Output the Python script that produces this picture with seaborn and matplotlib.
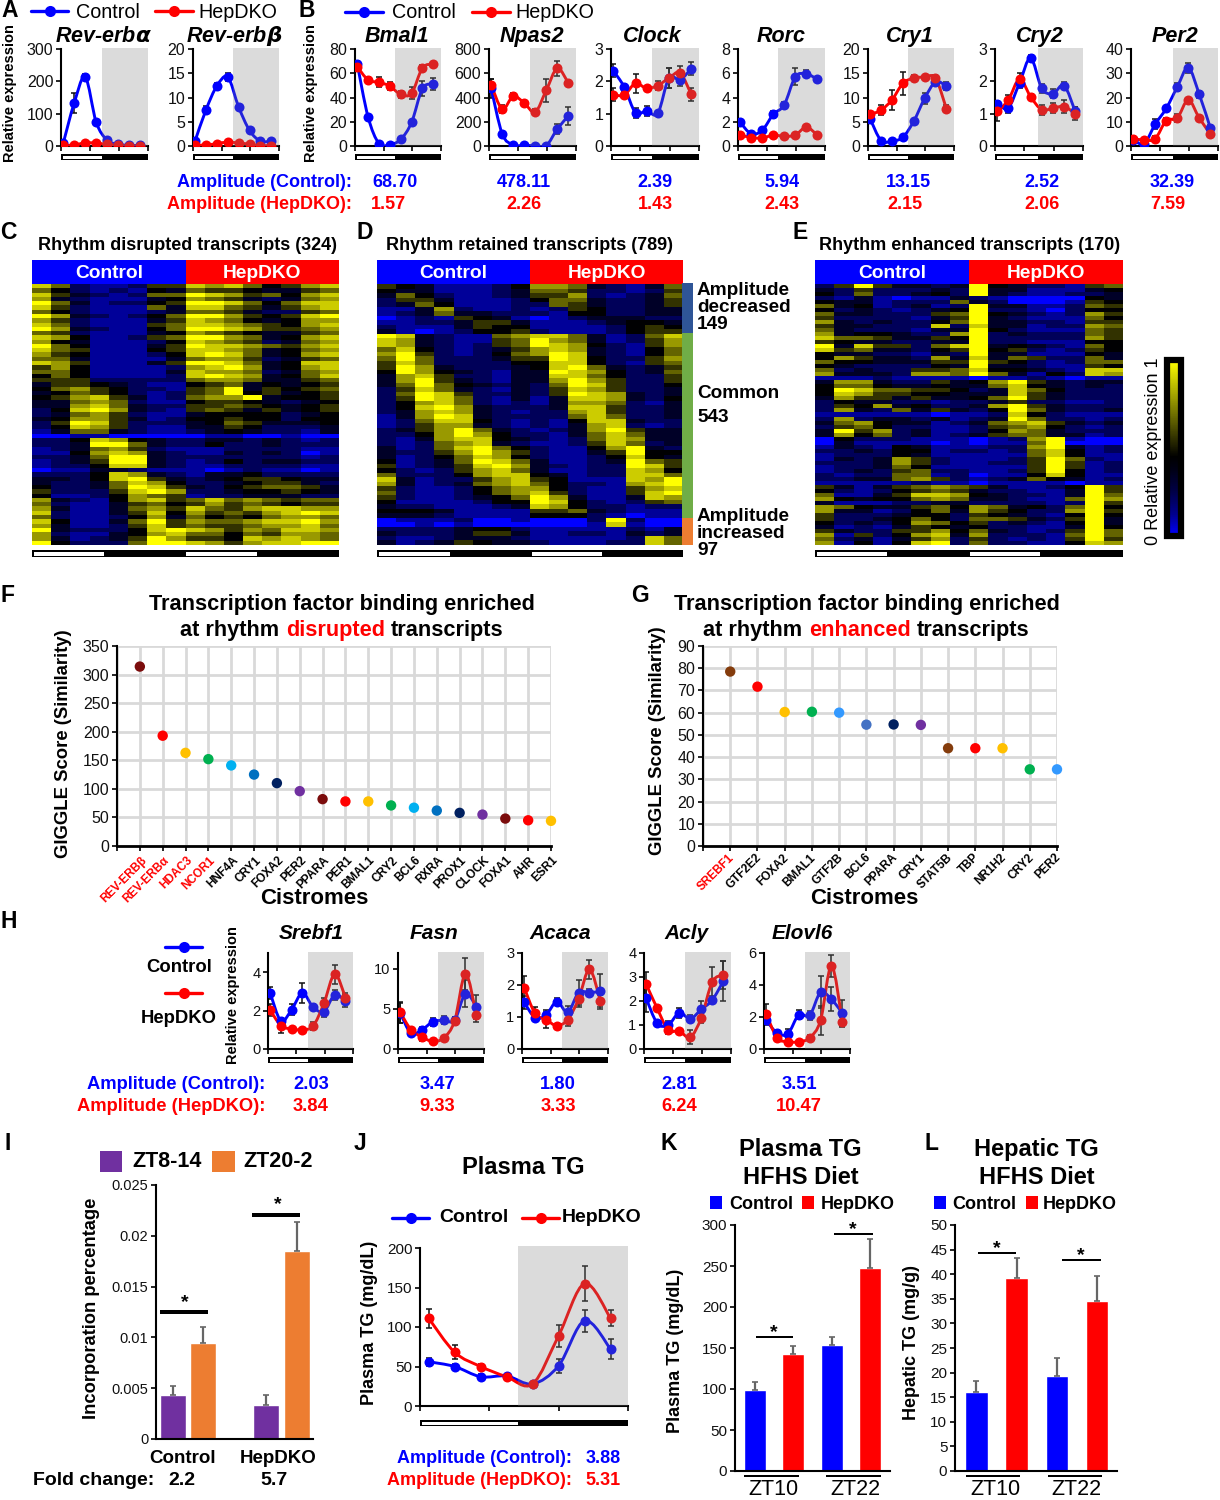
import pandas as pd
import matplotlib
matplotlib.use("Agg")
import matplotlib.pyplot as plt
import seaborn as sns
from matplotlib.cm import ScalarMappable
from matplotlib.colors import LinearSegmentedColormap, Normalize
from matplotlib.patches import PathPatch, Rectangle
from matplotlib.path import Path

W, H = 1220, 1500
BLUE, RED = "#0000ff", "#ff0000"
ZT = [0, 1, 2, 3, 4, 5, 6, 7]

# --- Panels A, B ---
REVA_C = [8, 133, 213, 73, 18, 5, 2, 2]
REVA_D = [2, 3, 10, 9, 5, 3, 1, 1]
REVA_CE = [3, 32, 10, 5, 3, 2, 1, 1]
REVA_DE = [1, 1, 2, 2, 1, 1, 1, 1]
REVB_C = [1.1, 7.5, 12.4, 14.2, 8, 3.2, 1, 1]
REVB_D = [0.2, 0.2, 0.5, 0.8, 0.6, 0.4, 0.1, 0.1]
REVB_CE = [0.3, 0.7, 0.6, 0.8, 0.3, 0.4, 0.3, 0.3]
REVB_DE = [0.1, 0.1, 0.1, 0.1, 0.1, 0.1, 0.1, 0.1]
BMAL_C = [68, 24, 2, 1, 5.5, 19.5, 47.5, 51]
BMAL_D = [65.5, 54.5, 52.5, 49.5, 42.5, 43.5, 64.5, 67.5]
BMAL_CE = [2, 1, 1, 1, 2, 2, 6, 5]
BMAL_DE = [3, 2, 4, 3, 2.5, 5, 2.5, 2]
NPAS_C = [475, 100, 8, 5, 3, 3, 140, 247]
NPAS_D = [505, 305, 410, 355, 280, 460, 640, 520]
NPAS_CE = [80, 15, 5, 5, 5, 5, 40, 75]
NPAS_DE = [50, 30, 25, 20, 25, 95, 60, 20]
CLOCK_C = [2.33, 1.82, 1.03, 1.09, 1.01, 2.1, 2.05, 2.39]
CLOCK_D = [1.58, 1.58, 1.94, 1.78, 1.87, 2.1, 2.26, 1.6]
CLOCK_CE = [0.2, 0.1, 0.15, 0.15, 0.05, 0.3, 0.2, 0.2]
CLOCK_DE = [0.2, 0.1, 0.3, 0.05, 0.15, 0.3, 0.2, 0.2]
RORC_C = [1.95, 1, 1.3, 2.6, 3.4, 5.7, 5.95, 5.5]
RORC_D = [0.9, 0.7, 0.65, 0.9, 0.8, 0.9, 1.55, 0.9]
RORC_CE = [0.1, 0.1, 0.1, 0.3, 0.2, 0.7, 0.3, 0.2]
RORC_DE = [0.1, 0.1, 0.1, 0.1, 0.1, 0.1, 0.1, 0.1]
CRY1_C = [5.6, 1.1, 1, 1.8, 5.1, 9.8, 13.2, 12.4]
CRY1_D = [6.5, 7.4, 9.5, 12.9, 14, 14.2, 14, 7.7]
CRY1_CE = [0.9, 0.3, 0.3, 0.4, 0.3, 1.2, 0.6, 0.8]
CRY1_DE = [0.6, 1, 2.1, 2.3, 0.7, 0.4, 0.6, 0.7]
CRY2_C = [1.3, 1.18, 1.95, 2.72, 1.78, 1.62, 1.87, 1.07]
CRY2_D = [1.07, 1.42, 2.07, 1.52, 1.12, 1.17, 1.22, 1.0]
CRY2_CE = [0.1, 0.15, 0.15, 0.1, 0.15, 0.15, 0.1, 0.15]
CRY2_DE = [0.3, 0.15, 0.2, 0.1, 0.15, 0.15, 0.2, 0.2]
PER2_C = [2.5, 1, 9, 15.5, 24.3, 32.3, 21.3, 7.5]
PER2_D = [3, 2.5, 3, 10.5, 11.5, 19, 11.5, 5]
PER2_CE = [0.5, 0.5, 2, 1, 1.5, 2, 1.5, 1]
PER2_DE = [1, 1, 1, 1, 1.5, 0.7, 1, 1]

# --- Panel H ---
SREBF_C = [2.92, 1.46, 2.05, 2.92, 2.17, 1.95, 2.82, 2.5]
SREBF_D = [2.03, 1.22, 1.04, 1, 1.2, 2.38, 3.9, 2.68]
SREBF_CE = [0.3, 0.1, 0.3, 0.5, 0.15, 0.3, 0.25, 0.3]
SREBF_DE = [0.3, 0.4, 0.1, 0.1, 0.2, 0.3, 0.5, 0.25]
FASN_C = [4.5, 1.95, 2.4, 3.4, 3.6, 3.6, 6.9, 5.3]
FASN_D = [4.6, 2.4, 1.5, 0.95, 1.4, 3.5, 9.4, 4.2]
FASN_CE = [1.3, 0.2, 0.3, 0.5, 0.5, 0.4, 1.7, 1.5]
FASN_DE = [1.3, 0.2, 0.5, 0.1, 0.2, 0.5, 2, 0.8]
ACACA_C = [1.46, 0.98, 1.06, 1.48, 1.15, 1.76, 1.76, 1.8]
ACACA_D = [1.92, 1.11, 0.92, 0.73, 0.92, 1.56, 2.49, 1.5]
ACACA_CE = [0.2, 0.1, 0.15, 0.1, 0.2, 0.4, 0.1, 0.55]
ACACA_DE = [0.35, 0.2, 0.25, 0.05, 0.2, 0.25, 0.3, 0.2]
ACLY_C = [2.11, 1.07, 1, 1.51, 1.26, 1.65, 2.04, 2.83]
ACLY_D = [2.7, 1.69, 0.79, 0.75, 0.49, 1.3, 2.8, 3.08]
ACLY_CE = [0.55, 0.1, 0.15, 0.2, 0.15, 0.35, 0.1, 0.85]
ACLY_DE = [0.5, 0.1, 0.15, 0.1, 0.3, 0.2, 0.6, 0.6]
ELOVL_C = [1.8, 1, 0.96, 2.15, 2.1, 3.55, 3.1, 2.25]
ELOVL_D = [2.2, 0.7, 0.45, 0.45, 0.7, 1.8, 5.2, 1.7]
ELOVL_CE = [0.3, 0.2, 0.3, 0.3, 0.3, 1, 0.75, 0.8]
ELOVL_DE = [0.6, 0.2, 0.2, 0.1, 0.2, 0.9, 0.7, 0.3]

# --- Panels C, D, E: one digit per cell, 0 = blue, 9 = yellow ---
HEAT_C = [
    "86211255 87864578", "64212143 65543356", "85321266 98756478", "73211134 76532367",
    "96312245 99864688", "85211163 88653578", "64211123 66532256", "97321246 99754589",
    "75211135 87643477", "86211156 88765478", "97321146 99875567", "65211134 76543356",
    "87411256 99763478", "74311124 87652367", "96411135 98876578", "86511145 88763467",
    "75411124 89863478", "66311113 67752356", "87511135 99863488", "57411112 78973478",
    "66411113 87762367", "46411112 89873468", "55522222 67763356", "35543211 45634345",
    "46754221 56935456", "34654212 56945345", "45785312 67793445", "33676211 45543234",
    "33786322 55654345", "24897321 56535345", "23675211 34444234", "34775312 44544244",
    "25985222 34653334", "24875211 33542223", "13663211 23432213", "00110000 01100100",
    "22487432 23323212", "22399632 24223222", "12367521 11222211", "11478732 11323201",
    "22369932 22222212", "12359932 12423322", "12248832 11222211", "01133211 10121101",
    "22248732 13342222", "33248953 23455433", "32236874 22345532", "42236985 32456653",
    "52225897 22344543", "41124765 12233322", "73214785 68676566", "62113564 57565455",
    "73113675 86578877", "82113584 75657898", "62112473 64546776", "84113695 76678897",
    "73112585 65567786", "93222489 87576887", "72113478 66465776", "73123597 55487876",
    "94222699 87578899",
]
HEAT_D = [
    "54311124 77632136", "43311123 66522125", "36421123 55721236", "25531112 46632235",
    "23641112 26532235", "11372112 12542233", "12363322 21442233", "01215431 01233322",
    "11223553 11123443", "21113544 11112454", "31012445 21112455", "98321167 88631268",
    "87321156 97631257", "87321256 98742157", "68421235 78732146", "79521246 79832146",
    "69622235 59842257", "58622224 48842156", "59732223 48963235", "49743213 39874236",
    "37852213 38864225", "37953213 37975225", "36964323 26985224", "25863213 25875223",
    "26985223 25987323", "25986213 13887324", "24786212 13776213", "24897322 23885223",
    "23787321 22785223", "13798322 22686223", "12688421 21488322", "12577321 21378212",
    "23579632 12379533", "22479742 21368633", "21378843 21268733", "21267832 11258623",
    "31268964 21147932", "32257975 21135944", "31246874 21124843", "41236986 31123965",
    "51235897 32122985", "42125786 31122874", "62224788 43122886", "83122578 54111879",
    "73123678 64221789", "52112467 74211578", "62112467 85211589", "52112346 97311387",
    "41111244 98421256", "32211123 87422122", "44431111 55632111", "33321111 44421011",
    "01112001 00029200", "00101000 00018100", "22223442 11111213", "32223553 11221323",
    "21123332 11111286", "31235433 21112286",
]
HEAT_E = [
    "25953323 94322156", "32522232 93311134", "42622342 93211223", "21310113 21000043",
    "43312226 32000154", "63412312 93311265", "42321234 92210244", "63322256 94321275",
    "52222135 93211164", "73232246 93322155", "53322282 83312276", "63222133 94211165",
    "73443227 92322265", "86653354 92222275", "54332233 92211144", "93855268 93432164",
    "85633245 94521254", "43322132 93311143", "47533273 83652263", "64433355 95421266",
    "43222243 93321154", "62322556 84432188", "73332776 96314287", "11121111 01121011",
    "37732253 47953233", "46643343 36843232", "49866554 23864222", "48755443 33853222",
    "37553533 46953222", "24332212 23522112", "25473422 37953222", "27326353 24963223",
    "11111101 12842111", "27233231 23962212", "36743312 36785323", "25642211 25674212",
    "39572311 24763222", "37462312 35663312", "04222111 01279100", "03111101 01169000",
    "13214311 12279312", "22324412 21268412", "12224311 11168411", "13237521 11259621",
    "22237521 12259512", "12236411 11159512", "12325622 11259412", "21226612 01148411",
    "22336752 12364312", "11111211 01111011", "53135676 53112495", "42124565 32211395",
    "61135887 43221396", "74344676 33211697", "31112233 22221295", "76433564 76342694",
    "73312463 75422795", "52223442 54321494", "52234642 66532593", "42324764 52321493",
    "31213543 42211394", "53225574 63212596", "71524783 72221696", "62313572 52121595",
    "71414892 62211487",
]

# --- Panels F, G ---
F_NAMES = ["REV-ERBβ", "REV-ERBα", "HDAC3", "NCOR1", "HNF4A", "CRY1", "FOXA2", "PER2", "PPARA", "PER1",
           "BMAL1", "CRY2", "BCL6", "RXRA", "PROX1", "CLOCK", "FOXA1", "AHR", "ESR1"]
F_SCORES = [314, 193, 163, 152, 141, 125, 110, 96, 82, 78, 78, 71, 67, 62, 58, 55, 48, 45, 44]
F_COLORS = ["#7b0c0c", "#ff0000", "#ffc000", "#00b050", "#00b0f0", "#0070c0", "#002060", "#7030a0", "#7b0c0c",
            "#ff0000", "#ffc000", "#00b050", "#00b0f0", "#0070c0", "#002060", "#7030a0", "#7b0c0c", "#ff0000", "#ffc000"]
F_RED = 4
G_NAMES = ["SREBF1", "GTF2E2", "FOXA2", "BMAL1", "GTF2B", "BCL6", "PPARA", "CRY1", "STAT5B", "TBP", "NR1H2", "CRY2", "PER2"]
G_SCORES = [78.5, 71.7, 60.3, 60.4, 60, 54.6, 54.7, 54.5, 44, 44, 44, 34.5, 34.5]
G_COLORS = ["#843c0c", "#ff0000", "#ffc000", "#00b050", "#3399ff", "#4472c4", "#002060", "#7030a0",
            "#843c0c", "#ff0000", "#ffc000", "#00b050", "#3399ff"]
G_RED = 1

# --- Panels I, J, K, L ---
I_GROUPS = ["Control", "Control", "HepDKO", "HepDKO"]
I_SERIES = ["ZT8-14", "ZT20-2", "ZT8-14", "ZT20-2"]
I_VALUES = [0.0043, 0.0094, 0.0033, 0.0185]
I_TOPS = [0.0052, 0.0110, 0.0043, 0.0214]
J_C = [56, 50, 37, 38, 28, 51, 108, 72]
J_D = [111, 68, 50, 37, 28, 89, 155, 111]
J_CE = [5, 3, 3, 3, 2, 9, 14, 13]
J_DE = [12, 9, 3, 3, 3, 14, 22, 10]
TG_GROUPS = ["ZT10", "ZT10", "ZT22", "ZT22"]
TG_SERIES = ["Control", "HepDKO", "Control", "HepDKO"]
K_VALUES = [99, 143, 154, 248]
K_TOPS = [109, 152, 164, 283]
L_VALUES = [16, 39.3, 19.4, 34.6]
L_TOPS = [18.2, 43.2, 22.9, 39.6]

sns.set_theme(style="white")
plt.rcParams["font.family"] = ["Liberation Sans", "DejaVu Sans"]
plt.rcParams["mathtext.fontset"] = "custom"
plt.rcParams["mathtext.bfit"] = "DejaVu Sans:italic:bold"

fig = plt.figure(figsize=(W / 100, H / 100), dpi=100)

# pixel overlay for labels and decorations
page = fig.add_axes([0, 0, 1, 1], zorder=20)
page.set_xlim(0, W)
page.set_ylim(H, 0)
page.axis("off")
page.patch.set_alpha(0)


def box(x0, y0, x1, y1):
    return fig.add_axes([x0 / W, 1 - y1 / H, (x1 - x0) / W, (y1 - y0) / H])


def label(x, y, s, size=12, weight="normal", color="black", ha="center", style="normal", rotation=0):
    page.text(x, y + 1.5, s, fontsize=size, fontweight=weight, color=color, ha=ha, va="center",
              fontstyle=style, rotation=rotation)


def rect(x0, y0, x1, y1, color):
    page.add_patch(Rectangle((x0, y0), x1 - x0, y1 - y0, facecolor=color, edgecolor="none"))


def day_night(x0, xm, x1, y0, y1):
    rect(x0, y0, x1, y1, "black")
    rect(x0 + 1.5, y0 + 1.5, xm, y1 - 1.5, "white")


def line_key(x0, x1, y, color, lw=2.4, ms=8):
    page.plot([x0, x1], [y, y], color=color, lw=lw, solid_capstyle="round")
    page.plot([(x0 + x1) / 2], [y], "o", color=color, ms=ms, mew=0)


def style_axis(ax, size=11.5):
    sns.despine(ax=ax)
    for side in ("left", "bottom"):
        ax.spines[side].set_linewidth(1.5)
        ax.spines[side].set_color("black")
    ax.tick_params(axis="both", length=3.5, width=1.2, color="black", labelsize=size, pad=2,
                   left=True, bottom=True, labelcolor="#111111")
    ax.set_xlabel("")
    ax.set_ylabel("")


def smooth_line(ax, x, y, color, lw=2.1):
    # same kind of rounded line through the points as the spreadsheet charts
    verts, codes = [(x[0], y[0])], [Path.MOVETO]
    n = len(x)
    for i in range(n - 1):
        a, b = max(i - 1, 0), min(i + 2, n - 1)
        verts.append((x[i] + (x[i + 1] - x[a]) / 6, y[i] + (y[i + 1] - y[a]) / 6))
        verts.append((x[i + 1] - (x[b] - x[i]) / 6, y[i + 1] - (y[b] - y[i]) / 6))
        verts.append((x[i + 1], y[i + 1]))
        codes += [Path.CURVE4] * 3
    ax.add_patch(PathPatch(Path(verts, codes), facecolor="none", edgecolor=color, lw=lw, zorder=3))


def rhythm(x0, xm, x1, y0, y1, ctrl, dko, ctrl_err, dko_err, ymax, yticks, size=11.5, xlow=-0.2, xhigh=7.7, bar=8, ms=7.2):
    ax = box(x0, y0, x1, y1)
    ax.errorbar(ZT, ctrl, yerr=ctrl_err, fmt="none", ecolor="#111111", elinewidth=1.1, capsize=2.2, capthick=1.1)
    ax.errorbar(ZT, dko, yerr=dko_err, fmt="none", ecolor="#111111", elinewidth=1.1, capsize=2.2, capthick=1.1)
    smooth_line(ax, ZT, ctrl, BLUE)
    smooth_line(ax, ZT, dko, RED)
    sns.lineplot(x=ZT, y=ctrl, color=BLUE, marker="o", markersize=ms, markeredgewidth=0, linewidth=0, zorder=4, ax=ax)
    sns.lineplot(x=ZT, y=dko, color=RED, marker="o", markersize=ms, markeredgewidth=0, linewidth=0, zorder=4, ax=ax)
    ax.set_xlim(xlow, xhigh)
    ax.set_ylim(0, ymax)
    night = xlow + (xm - x0) / (x1 - x0) * (xhigh - xlow)
    ax.axvspan(night, xhigh, ymin=0, ymax=1.015, color="#808080", alpha=0.28, lw=0, zorder=5, clip_on=False)
    ax.set_yticks(yticks)
    ax.set_xticks([xlow + (xhigh - xlow) * k / 3 for k in range(4)])
    ax.set_xticklabels([])
    style_axis(ax, size)
    day_night(x0, xm, x1, y1 + bar, y1 + bar + 6)
    return ax


# --- A, B ---
line_key(31, 68, 11, BLUE)
label(76, 11, "Control", 14.2, ha="left")
line_key(155, 193, 11, RED)
label(198, 11, "HepDKO", 14.2, ha="left")
line_key(345, 383, 12, BLUE)
label(392, 11, "Control", 14.2, ha="left")
line_key(472, 510, 12, RED)
label(515, 11, "HepDKO", 14.2, ha="left")

TOP_PANELS = [
    (61, 102, 148, REVA_C, REVA_D, REVA_CE, REVA_DE, 300, [0, 100, 200, 300], "Rev-erb$\\mathbfit{α}$", 103),
    (193, 233, 279, REVB_C, REVB_D, REVB_CE, REVB_DE, 20, [0, 5, 10, 15, 20], "Rev-erb$\\mathbfit{β}$", 234),
    (355, 395, 441, BMAL_C, BMAL_D, BMAL_CE, BMAL_DE, 80, [0, 20, 40, 60, 80], "Bmal1", 397),
    (489, 530, 576, NPAS_C, NPAS_D, NPAS_CE, NPAS_DE, 800, [0, 200, 400, 600, 800], "Npas2", 532),
    (611, 652, 699, CLOCK_C, CLOCK_D, CLOCK_CE, CLOCK_DE, 3, [0, 1, 2, 3], "Clock", 652),
    (738, 778, 825, RORC_C, RORC_D, RORC_CE, RORC_DE, 8, [0, 2, 4, 6, 8], "Rorc", 781),
    (868, 908, 954, CRY1_C, CRY1_D, CRY1_CE, CRY1_DE, 20, [0, 5, 10, 15, 20], "Cry1", 910),
    (995, 1038, 1083, CRY2_C, CRY2_D, CRY2_CE, CRY2_DE, 3, [0, 1, 2, 3], "Cry2", 1040),
    (1131, 1173, 1218, PER2_C, PER2_D, PER2_CE, PER2_DE, 40, [0, 10, 20, 30, 40], "Per2", 1175),
]
for x0, xm, x1, c, d, ce, de, ymax, ticks, name, tx in TOP_PANELS:
    rhythm(x0, xm, x1, 49, 146, c, d, ce, de, ymax, ticks)
    label(tx, 35, name, 15.5, "bold", style="italic")

label(10, 92, "Relative expression", 10.5, "bold", rotation=90)
label(311, 92, "Relative expression", 10.5, "bold", rotation=90)
label(352, 181, "Amplitude (Control):", 13, "bold", BLUE, ha="right")
label(352, 203, "Amplitude (HepDKO):", 13, "bold", RED, ha="right")
for x, s in zip([395, 524, 655, 782, 908, 1042, 1172], ["68.70", "478.11", "2.39", "5.94", "13.15", "2.52", "32.39"]):
    label(x, 181, s, 13, "bold", BLUE)
for x, s in zip([388, 524, 655, 782, 905, 1042, 1168], ["1.57", "2.26", "1.43", "2.43", "2.15", "2.06", "7.59"]):
    label(x, 203, s, 13, "bold", RED)

# --- C, D, E ---
heat_cmap = LinearSegmentedColormap.from_list("heat", [(0, "#0000ff"), (0.12, "#000090"), (0.25, "#000048"),
                                                       (0.38, "#000014"), (0.45, "#000000"), (1, "#ffff00")])


def heat_panel(x0, x1, rows, title, tx, xm1, xm2, xm3):
    ax = box(x0, 284, x1, 545)
    grid = pd.DataFrame([[int(c) for c in r.replace(" ", "")] for r in rows])
    sns.heatmap(grid, cmap=heat_cmap, vmin=0, vmax=9, cbar=False, xticklabels=False, yticklabels=False, ax=ax)
    label(tx, 244, title, 13, "bold")
    mid = (x0 + x1) / 2
    rect(x0, 260, mid, 284, BLUE)
    rect(mid, 260, x1, 284, RED)
    label((x0 + mid) / 2, 272, "Control", 13.8, "bold", "white")
    label((mid + x1) / 2, 272, "HepDKO", 13.8, "bold", "white")
    rect(x0, 550, x1, 557, "black")
    rect(x0 + 1.5, 551.5, xm1, 555.5, "white")
    rect(xm2, 551.5, xm3, 555.5, "white")


heat_panel(32, 339, HEAT_C, "Rhythm disrupted transcripts (324)", 187, 104, 186, 257)
heat_panel(377, 683, HEAT_D, "Rhythm retained transcripts (789)", 529, 450, 532, 602)
heat_panel(815, 1123, HEAT_E, "Rhythm enhanced transcripts (170)", 970, 887, 970, 1040)

rect(682, 283, 693, 333, "#2f5597")
rect(682, 333, 693, 518, "#70ad47")
rect(682, 518, 693, 545, "#ed7d31")
for y, s in zip([289, 306, 323, 392, 416, 515, 532, 549],
                ["Amplitude", "decreased", "149", "Common", "543", "Amplitude", "increased", "97"]):
    label(697, y, s, 13.7, "bold", ha="left")

cax = box(1167, 360, 1181, 536)
bar = fig.colorbar(ScalarMappable(Normalize(0, 1), heat_cmap), cax=cax)
bar.set_ticks([])
bar.outline.set_linewidth(4.5)
bar.outline.set_edgecolor("black")
label(1153, 450, "0 Relative expression 1", 13, rotation=90)


# --- F, G ---
def giggle(x0, x1, names, scores, colors, n_red, ymax, step, size, offset):
    ax = box(x0, 646, x1, 846)
    pos = list(range(1, len(names) + 1))
    sns.scatterplot(x=pos, y=scores, hue=names, palette=dict(zip(names, colors)), s=56, linewidth=0,
                    legend=False, clip_on=False, zorder=6, ax=ax)
    ax.set_xlim(0, len(names))
    ax.set_ylim(0, ymax)
    ax.set_xticks(range(len(names) + 1))
    ax.set_yticks(range(0, ymax + 1, step))
    ax.grid(True, color="#d9d9d9", lw=2)
    ax.set_axisbelow(True)
    style_axis(ax, 11.5)
    ax.spines["bottom"].set_linewidth(2)
    ax.set_xticklabels([])
    for p, name, i in zip(pos, names, range(len(names))):
        ax.annotate(name, (p, 0), xytext=offset, textcoords="offset points", rotation=45, ha="right", va="top",
                    rotation_mode="anchor", fontsize=size, fontweight="bold",
                    color=RED if i < n_red else "black")
    return ax


giggle(117, 551, F_NAMES, F_SCORES, F_COLORS, F_RED, 350, 50, 8.5, (0.5, -6))
giggle(703, 1057, G_NAMES, G_SCORES, G_COLORS, G_RED, 90, 10, 8.5, (-1.5, -4))
label(342, 603, "Transcription factor binding enriched", 15.7, "bold")
label(180, 629, "at rhythm", 15.7, "bold", ha="left")
label(286, 629, "disrupted", 15.7, "bold", RED, ha="left")
label(391, 629, "transcripts", 15.7, "bold", ha="left")
label(867, 603, "Transcription factor binding enriched", 15.7, "bold")
label(703, 629, "at rhythm", 15.7, "bold", ha="left")
label(809, 629, "enhanced", 15.7, "bold", RED, ha="left")
label(917, 629, "transcripts", 15.7, "bold", ha="left")
label(64, 742, "GIGGLE Score (Similarity)", 13.3, "bold", rotation=90)
label(657, 739, "GIGGLE Score (Similarity)", 13.3, "bold", rotation=90)
label(314, 897, "Cistromes", 16, "bold")
label(864, 897, "Cistromes", 16, "bold")

# --- H ---
H_PANELS = [
    (268, 308, 353, SREBF_C, SREBF_D, SREBF_CE, SREBF_DE, 5, [0, 2, 4], "Srebf1", 311),
    (398, 438, 484, FASN_C, FASN_D, FASN_CE, FASN_DE, 12, [0, 5, 10], "Fasn", 434),
    (522, 562, 608, ACACA_C, ACACA_D, ACACA_CE, ACACA_DE, 3, [0, 1, 2, 3], "Acaca", 560),
    (644, 685, 731, ACLY_C, ACLY_D, ACLY_CE, ACLY_DE, 4, [0, 1, 2, 3, 4], "Acly", 686),
    (764, 805, 850, ELOVL_C, ELOVL_D, ELOVL_CE, ELOVL_DE, 6, [0, 2, 4, 6], "Elovl6", 802),
]
for x0, xm, x1, c, d, ce, de, ymax, ticks, name, tx in H_PANELS:
    rhythm(x0, xm, x1, 953, 1049, c, d, ce, de, ymax, ticks, size=10.5)
    label(tx, 932, name, 15, "bold", style="italic")
line_key(165, 202, 947, BLUE)
label(179, 966, "Control", 13.3, "bold")
line_key(165, 202, 993, RED)
label(179, 1017, "HepDKO", 13.3, "bold")
label(233, 994, "Relative expression", 10.5, "bold", rotation=90)
label(265, 1083, "Amplitude (Control):", 13.2, "bold", BLUE, ha="right")
label(265, 1105, "Amplitude (HepDKO):", 13.2, "bold", RED, ha="right")
for x, s, s2 in zip([311, 437, 558, 679, 799], ["2.03", "3.47", "1.80", "2.81", "3.51"],
                    ["3.84", "9.33", "3.33", "6.24", "10.47"]):
    label(x, 1083, s, 13.2, "bold", BLUE)
    label(x, 1105, s2, 13.2, "bold", RED)


# --- I, K, L ---
def tg_bars(bx, groups, series, values, tops, palette, width, gap, xlim, ymax, yticks, yticklabels, size):
    ax = box(*bx)
    df = pd.DataFrame({"group": groups, "series": series, "value": values})
    sns.barplot(data=df, x="group", y="value", hue="series", palette=palette, width=width, gap=gap,
                saturation=1, legend=False, ax=ax)
    centers = sorted(p.get_x() + p.get_width() / 2 for p in ax.patches if p.get_height() > 0)
    for x, v, t in zip(centers, values, tops):
        ax.errorbar([x], [v], yerr=[[0], [t - v]], fmt="none", ecolor="#666666", elinewidth=1.6, capsize=2, capthick=1.2)
    ax.set_xlim(*xlim)
    ax.set_ylim(0, ymax)
    ax.set_yticks(yticks)
    ax.set_yticklabels(yticklabels)
    ax.set_xticks([])
    style_axis(ax, size)
    return ax


tg_bars((156, 1185, 313, 1439), I_GROUPS, I_SERIES, I_VALUES, I_TOPS, {"ZT8-14": "#7030a0", "ZT20-2": "#ed7d31"},
        0.65, 0.15, (-0.342, 1.337), 0.025, [0, 0.005, 0.01, 0.015, 0.02, 0.025],
        ["0", "0.005", "0.01", "0.015", "0.02", "0.025"], 10.5)
rect(100, 1151, 122, 1172, "#7030a0")
label(132, 1160, "ZT8-14", 15.5, "bold", ha="left")
rect(212, 1151, 235, 1172, "#ed7d31")
label(243, 1160, "ZT20-2", 15.5, "bold", ha="left")
rect(160, 1310, 208, 1314, "black")
label(185, 1301, "*", 14, "bold")
rect(252, 1213, 300, 1217, "black")
label(278, 1203, "*", 14, "bold")
label(92, 1307, "Incorporation percentage", 13.2, "bold", rotation=90)
label(183, 1457, "Control", 13.5, "bold")
label(278, 1457, "HepDKO", 13.5, "bold")
label(33, 1479, "Fold change:", 14, "bold", ha="left")
label(182, 1479, "2.2", 14, "bold")
label(274, 1479, "5.7", 14, "bold")

TG_PALETTE = {"Control": BLUE, "HepDKO": RED}
tg_bars((735, 1225, 890, 1471), TG_GROUPS, TG_SERIES, K_VALUES, K_TOPS, TG_PALETTE, 1.0, 0.44, (-0.506, 1.506), 300,
        [0, 50, 100, 150, 200, 250, 300], [0, 50, 100, 150, 200, 250, 300], 11)
tg_bars((955, 1225, 1117, 1471), TG_GROUPS, TG_SERIES, L_VALUES, L_TOPS, TG_PALETTE, 1.0, 0.44, (-0.516, 1.497), 50,
        list(range(0, 51, 5)), list(range(0, 51, 5)), 11)

for cx, title, sq1, txt1, sq2, txt2 in [(800, "Plasma TG", 710, 729, 802, 821), (1036, "Hepatic TG", 934, 952, 1026, 1043)]:
    label(cx, 1148, title, 17, "bold")
    label(cx + 1, 1176, "HFHS Diet", 17, "bold")
    rect(sq1, 1196, sq1 + 12, 1209, BLUE)
    label(txt1, 1203, "Control", 13, "bold", ha="left")
    rect(sq2, 1196, sq2 + 12, 1209, RED)
    label(txt2, 1203, "HepDKO", 13, "bold", ha="left")

rect(756, 1336, 793, 1338, "black")
label(774, 1331, "*", 14, "bold")
rect(834, 1233, 873, 1235, "black")
label(853, 1228, "*", 14, "bold")
rect(978, 1252, 1016, 1254, "black")
label(997, 1247, "*", 14, "bold")
rect(1062, 1259, 1101, 1261, "black")
label(1081, 1254, "*", 14, "bold")
for x0, x1, cx, s in [(744, 799, 773, "ZT10"), (826, 881, 855, "ZT22"), (966, 1020, 995, "ZT10"), (1048, 1102, 1076, "ZT22")]:
    rect(x0, 1475, x1, 1477, "black")
    label(cx, 1488, s, 15.5)
label(676, 1349, "Plasma TG (mg/dL)", 13, "bold", rotation=90)
label(911, 1341, "Hepatic TG (mg/g)", 13, "bold", rotation=90)

# --- J ---
rhythm(420, 518, 628, 1248, 1406, J_C, J_D, J_CE, J_DE, 200, [0, 50, 100, 150, 200], size=11, xlow=-0.335, xhigh=7.67, bar=14)
label(523, 1166, "Plasma TG", 17, "bold")
line_key(392, 429, 1218, BLUE)
label(439, 1216, "Control", 14, "bold", ha="left")
line_key(522, 559, 1218, RED)
label(562, 1216, "HepDKO", 14, "bold", ha="left")
label(369, 1321, "Plasma TG (mg/dL)", 13, "bold", rotation=90)
label(572, 1457, "Amplitude (Control):", 13, "bold", BLUE, ha="right")
label(572, 1479, "Amplitude (HepDKO):", 13, "bold", RED, ha="right")
label(603, 1457, "3.88", 13, "bold", BLUE)
label(603, 1479, "5.31", 13, "bold", RED)

# --- panel letters ---
LETTERS = {"A": (1, 9), "B": (298, 9), "C": (0, 231), "D": (357, 231), "E": (793, 231), "F": (1, 594), "G": (631, 594),
           "H": (1, 920), "I": (5, 1142), "J": (354, 1142), "K": (661, 1142), "L": (925, 1142)}
for letter, (x, y) in LETTERS.items():
    label(x, y, letter, 16.5, "bold", ha="left")

fig.savefig("out.png", dpi=100, facecolor="white")
